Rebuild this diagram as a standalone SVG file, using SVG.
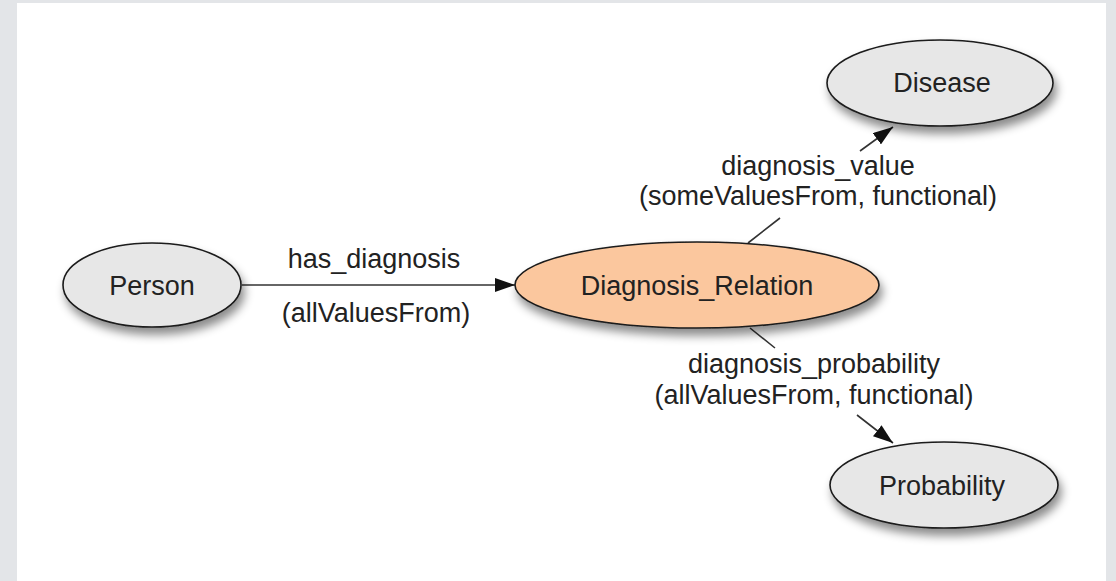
<svg xmlns="http://www.w3.org/2000/svg" width="1116" height="581" viewBox="0 0 1116 581">
  <style>
    .node { stroke: #1a1a1a; stroke-width: 1.6; }
    .gray { fill: #e7e7e7; }
    .peach { fill: #fbc79e; }
    .lbl { font-family: "Liberation Sans", Arial, sans-serif; font-size: 27px; fill: #222; text-anchor: middle; }
    .edge { stroke: #333; stroke-width: 1.6; fill: none; marker-end: url(#arrow); }
  </style>
  <defs>
    <filter id="shadow" x="-20%" y="-30%" width="150%" height="180%">
      <feDropShadow dx="3" dy="7" stdDeviation="5" flood-color="#000" flood-opacity="0.45"/>
    </filter>
    <marker id="arrow" viewBox="0 0 20 14" refX="20" refY="7" markerWidth="20" markerHeight="14" markerUnits="userSpaceOnUse" orient="auto">
      <path d="M0,0 L20,7 L0,14 Z" fill="#111"/>
    </marker>
  </defs>
  <rect x="0" y="0" width="1116" height="581" fill="#e3e5e8"/>
  <rect x="17" y="3" width="1089" height="578" fill="#ffffff"/>

  <g id="connectors">
    <path class="edge" d="M242,285 L515,285"/>
    <path class="edge" d="M748,243 L780,218 M860,151 L893,127"/>
    <path class="edge" d="M750,328 L775,348 M857,415 L893,443"/>
  </g>

  <g id="edge-labels">
    <text class="lbl" x="374" y="268">has_diagnosis</text>
    <text class="lbl" x="376" y="322">(allValuesFrom)</text>
    <text class="lbl" x="818" y="175">diagnosis_value</text>
    <text class="lbl" x="818" y="205">(someValuesFrom, functional)</text>
    <text class="lbl" x="814" y="373">diagnosis_probability</text>
    <text class="lbl" x="814" y="404">(allValuesFrom, functional)</text>
  </g>

  <g id="person">
    <ellipse class="node gray" cx="152" cy="285" rx="89" ry="42" filter="url(#shadow)"/>
    <text class="lbl" x="152" y="295">Person</text>
  </g>
  <g id="diagnosis_relation">
    <ellipse class="node peach" cx="697" cy="285" rx="182" ry="43" filter="url(#shadow)"/>
    <text class="lbl" x="697" y="295">Diagnosis_Relation</text>
  </g>
  <g id="disease">
    <ellipse class="node gray" cx="940" cy="83" rx="113" ry="43" filter="url(#shadow)"/>
    <text class="lbl" x="942" y="92">Disease</text>
  </g>
  <g id="probability">
    <ellipse class="node gray" cx="944" cy="485" rx="114" ry="43" filter="url(#shadow)"/>
    <text class="lbl" x="942" y="495">Probability</text>
  </g>
</svg>
